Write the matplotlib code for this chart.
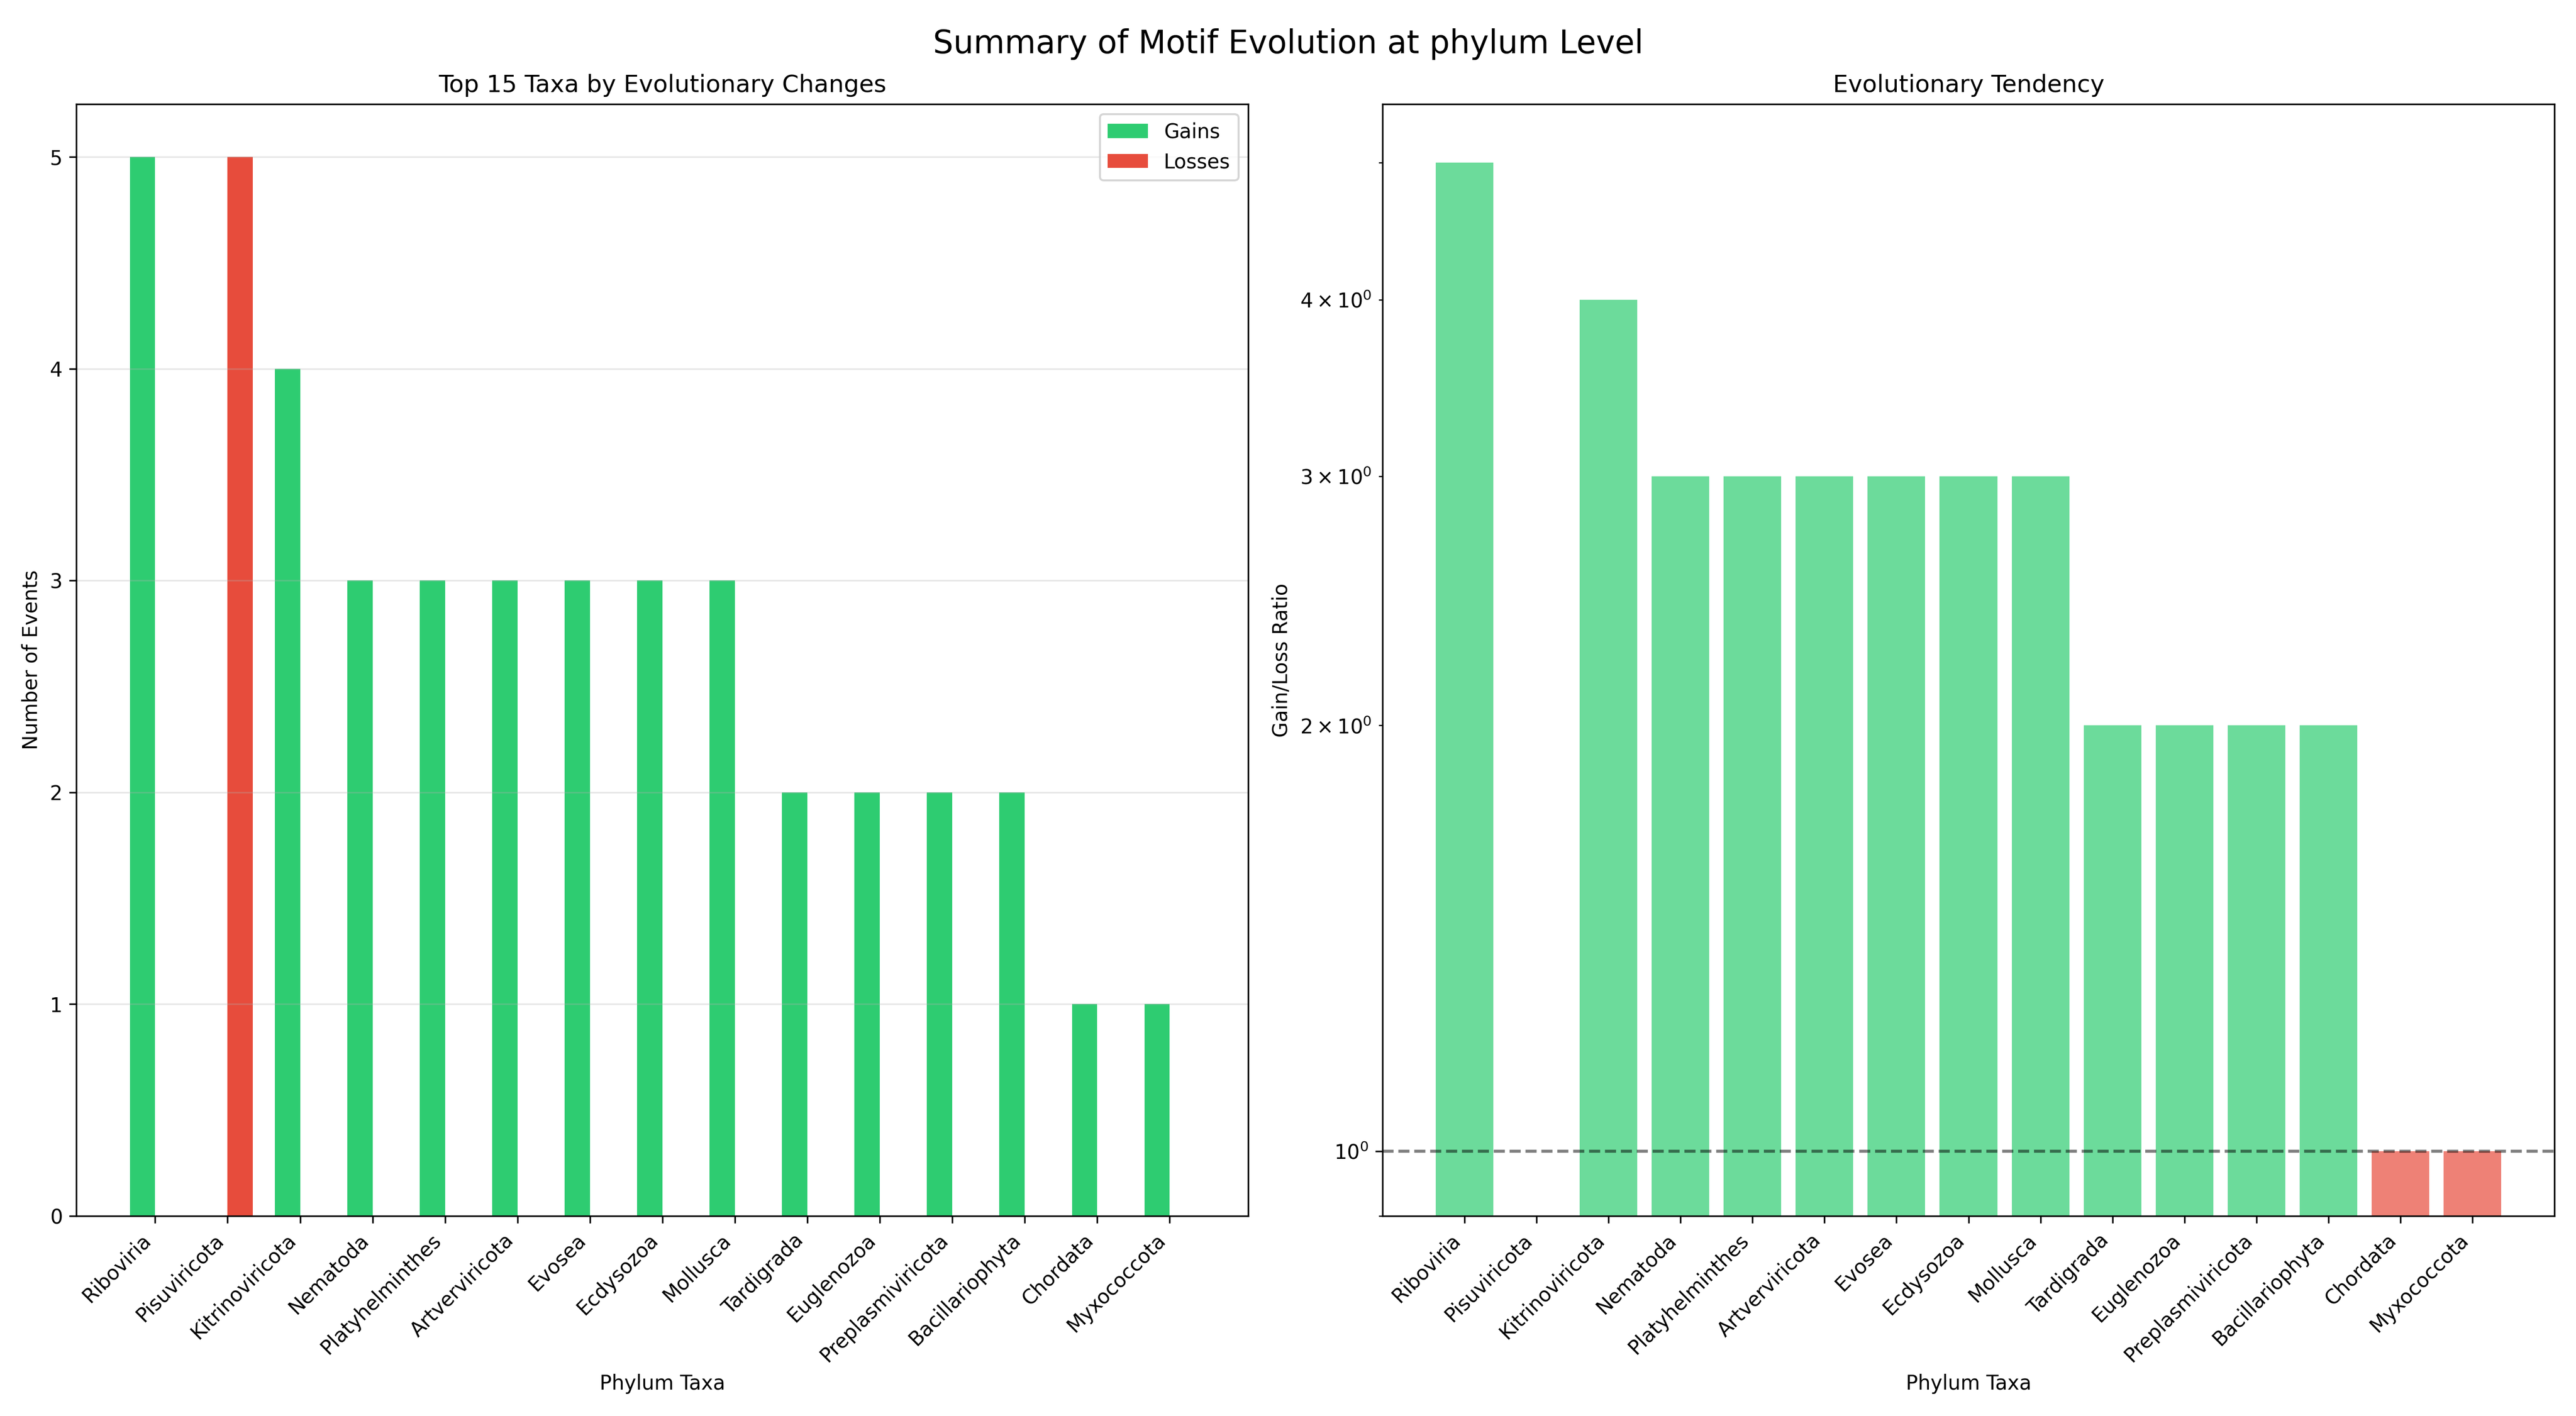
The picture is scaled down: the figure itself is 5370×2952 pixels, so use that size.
import numpy as np
import matplotlib
matplotlib.use('Agg')
from matplotlib import pyplot as plt

taxa = ['Riboviria', 'Pisuviricota', 'Kitrinoviricota', 'Nematoda', 'Platyhelminthes',
        'Artverviricota', 'Evosea', 'Ecdysozoa', 'Mollusca', 'Tardigrada', 'Euglenozoa',
        'Preplasmiviricota', 'Bacillariophyta', 'Chordata', 'Myxococcota']
gains = [5, 0, 4, 3, 3, 3, 3, 3, 3, 2, 2, 2, 2, 1, 1]
losses = [0, 5, 0, 0, 0, 0, 0, 0, 0, 0, 0, 0, 0, 0, 0]
ratio = [5, 0, 4, 3, 3, 3, 3, 3, 3, 2, 2, 2, 2, 1, 1]

fig, (ax1, ax2) = plt.subplots(1, 2, figsize=(17.9, 9.84))
x = np.arange(len(taxa))
w = 0.35

ax1.bar(x - w/2, gains, w, label='Gains', color='#2ecc71')
ax1.bar(x + w/2, losses, w, label='Losses', color='#e74c3c')
ax1.set_xticks(x)
ax1.set_xticklabels(taxa, rotation=45, ha='right')
ax1.set_xlabel('Phylum Taxa')
ax1.set_ylabel('Number of Events')
ax1.set_title('Top 15 Taxa by Evolutionary Changes')
ax1.legend()
ax1.grid(axis='y', alpha=0.3)

colors = ['#2ecc71' if r > 1 else '#e74c3c' for r in ratio]
ax2.bar(x, ratio, color=colors, alpha=0.7)
ax2.set_yscale('log')
ax2.set_ylim(0.9, 5.5)
ax2.axhline(1, color='black', linestyle='--', alpha=0.5)
ax2.set_xticks(x)
ax2.set_xticklabels(taxa, rotation=45, ha='right')
ax2.set_xlabel('Phylum Taxa')
ax2.set_ylabel('Gain/Loss Ratio')
ax2.set_title('Evolutionary Tendency')

fig.suptitle('Summary of Motif Evolution at phylum Level', fontsize=16)
plt.tight_layout()
plt.savefig('out.png', dpi=300)
